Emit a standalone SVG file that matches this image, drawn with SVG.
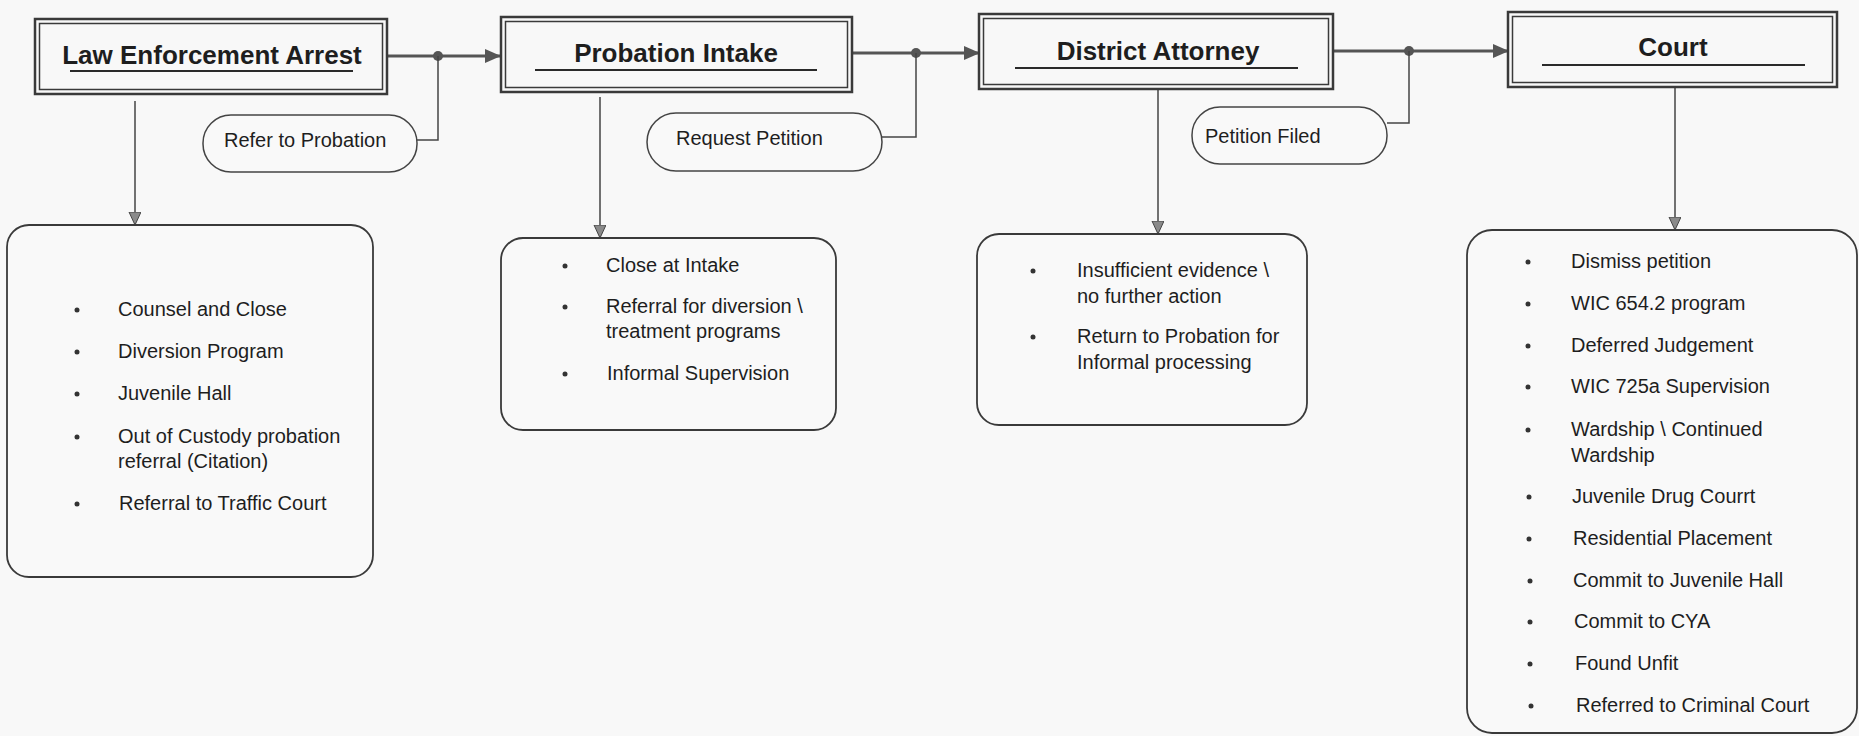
<svg xmlns="http://www.w3.org/2000/svg" width="1859" height="736" viewBox="0 0 1859 736">
<style>
.bg{fill:#f8f8f8}
.hout{fill:none;stroke:#3a3a3a;stroke-width:2.5}
.hin{fill:none;stroke:#3a3a3a;stroke-width:1.5}
.ul{stroke:#2a2a2a;stroke-width:2}
.ht{font-family:"Liberation Sans",Arial,sans-serif;font-weight:bold;font-size:26px;fill:#1e1e1e;text-anchor:middle}
.pill{fill:#f9f9f9;stroke:#444;stroke-width:1.5}
.lbl{font-family:"Liberation Sans",Arial,sans-serif;font-size:20px;fill:#1e1e1e}
.box{fill:#f9f9f9;stroke:#3a3a3a;stroke-width:1.8}
.bul{fill:#333}
.main{stroke:#555;stroke-width:3;fill:none}
.thin{stroke:#444;stroke-width:1.5;fill:none}
.dot{fill:#555}
</style>
<defs>
<marker id="ah" markerWidth="16" markerHeight="14" refX="15" refY="7" orient="auto" markerUnits="userSpaceOnUse">
<path d="M0,0 L16,7 L0,14 Z" fill="#555"/>
</marker>
<marker id="ad" markerWidth="14" markerHeight="14" refX="13" refY="6" orient="auto" markerUnits="userSpaceOnUse">
<path d="M0,0 L13,6 L0,12 Z" fill="#8a8a8a" stroke="#444" stroke-width="1"/>
</marker>
</defs>
<rect class="bg" x="0" y="0" width="1859" height="736"/>

<g id="connectors">
<line class="main" x1="387" y1="56" x2="500" y2="56" marker-end="url(#ah)"/>
<circle class="dot" cx="438" cy="56" r="5"/>
<polyline class="thin" points="438,56 438,140 417,140"/>
<line class="main" x1="852" y1="53" x2="979" y2="53" marker-end="url(#ah)"/>
<circle class="dot" cx="916" cy="53" r="5"/>
<polyline class="thin" points="916,53 916,137 882,137"/>
<line class="main" x1="1333" y1="51" x2="1508" y2="51" marker-end="url(#ah)"/>
<circle class="dot" cx="1409" cy="51" r="5"/>
<polyline class="thin" points="1409,51 1409,123 1387,123"/>
<line class="thin" x1="135" y1="101" x2="135" y2="225" marker-end="url(#ad)"/>
<line class="thin" x1="600" y1="97" x2="600" y2="238" marker-end="url(#ad)"/>
<line class="thin" x1="1158" y1="89" x2="1158" y2="234" marker-end="url(#ad)"/>
<line class="thin" x1="1675" y1="87" x2="1675" y2="230" marker-end="url(#ad)"/>
</g>

<g id="law-enforcement-arrest">
<rect class="hout" x="35" y="19" width="352" height="75"/>
<rect class="hin" x="39.5" y="23.5" width="343" height="66"/>
<text class="ht" x="212" y="64">Law Enforcement Arrest</text>
<line class="ul" x1="70" y1="71" x2="353" y2="71"/>
</g>

<g id="probation-intake">
<rect class="hout" x="501" y="17" width="351" height="75"/>
<rect class="hin" x="505.5" y="21.5" width="342" height="66"/>
<text class="ht" x="676" y="62">Probation Intake</text>
<line class="ul" x1="535" y1="70" x2="817" y2="70"/>
</g>

<g id="district-attorney">
<rect class="hout" x="979" y="14" width="354" height="75"/>
<rect class="hin" x="983.5" y="18.5" width="345" height="66"/>
<text class="ht" x="1158" y="60">District Attorney</text>
<line class="ul" x1="1015" y1="68" x2="1298" y2="68"/>
</g>

<g id="court">
<rect class="hout" x="1508" y="12" width="329" height="75"/>
<rect class="hin" x="1512.5" y="16.5" width="320" height="66"/>
<text class="ht" x="1673" y="56">Court</text>
<line class="ul" x1="1542" y1="65" x2="1805" y2="65"/>
</g>

<g id="refer-to-probation">
<rect class="pill" x="203" y="115" width="214" height="57" rx="28" ry="28"/>
<text class="lbl" x="224" y="147">Refer to Probation</text>
</g>

<g id="request-petition">
<rect class="pill" x="647" y="113" width="235" height="58" rx="29" ry="29"/>
<text class="lbl" x="676" y="145">Request Petition</text>
</g>

<g id="petition-filed">
<rect class="pill" x="1192" y="107" width="195" height="57" rx="28" ry="28"/>
<text class="lbl" x="1205" y="143">Petition Filed</text>
</g>

<g id="arrest-outcomes">
<rect class="box" x="7" y="225" width="366" height="352" rx="22" ry="22"/>
<circle class="bul" cx="77" cy="310" r="2.5"/>
<text class="lbl" x="118" y="316">Counsel and Close</text>
<circle class="bul" cx="77" cy="352" r="2.5"/>
<text class="lbl" x="118" y="358">Diversion Program</text>
<circle class="bul" cx="77" cy="394" r="2.5"/>
<text class="lbl" x="118" y="400">Juvenile Hall</text>
<circle class="bul" cx="77" cy="437" r="2.5"/>
<text class="lbl" x="118" y="443">Out of Custody probation</text>
<text class="lbl" x="118" y="468">referral (Citation)</text>
<circle class="bul" cx="77" cy="504" r="2.5"/>
<text class="lbl" x="119" y="510">Referral to Traffic Court</text>
</g>

<g id="intake-outcomes">
<rect class="box" x="501" y="238" width="335" height="192" rx="22" ry="22"/>
<circle class="bul" cx="565" cy="266" r="2.5"/>
<text class="lbl" x="606" y="272">Close at Intake</text>
<circle class="bul" cx="565" cy="307" r="2.5"/>
<text class="lbl" x="606" y="313">Referral for diversion \</text>
<text class="lbl" x="606" y="338">treatment programs</text>
<circle class="bul" cx="565" cy="374" r="2.5"/>
<text class="lbl" x="607" y="380">Informal Supervision</text>
</g>

<g id="da-outcomes">
<rect class="box" x="977" y="234" width="330" height="191" rx="22" ry="22"/>
<circle class="bul" cx="1033" cy="271" r="2.5"/>
<text class="lbl" x="1077" y="277">Insufficient evidence \</text>
<text class="lbl" x="1077" y="303">no further action</text>
<circle class="bul" cx="1033" cy="337" r="2.5"/>
<text class="lbl" x="1077" y="343">Return to Probation for</text>
<text class="lbl" x="1077" y="369">Informal processing</text>
</g>

<g id="court-outcomes">
<rect class="box" x="1467" y="230" width="390" height="503" rx="25" ry="25"/>
<circle class="bul" cx="1528" cy="262" r="2.5"/>
<text class="lbl" x="1571" y="268">Dismiss petition</text>
<circle class="bul" cx="1528" cy="304" r="2.5"/>
<text class="lbl" x="1571" y="310">WIC 654.2 program</text>
<circle class="bul" cx="1528" cy="346" r="2.5"/>
<text class="lbl" x="1571" y="352">Deferred Judgement</text>
<circle class="bul" cx="1528" cy="387" r="2.5"/>
<text class="lbl" x="1571" y="393">WIC 725a Supervision</text>
<circle class="bul" cx="1528" cy="430" r="2.5"/>
<text class="lbl" x="1571" y="436">Wardship \ Continued</text>
<text class="lbl" x="1571" y="462">Wardship</text>
<circle class="bul" cx="1529" cy="497" r="2.5"/>
<text class="lbl" x="1572" y="503">Juvenile Drug Courrt</text>
<circle class="bul" cx="1529" cy="539" r="2.5"/>
<text class="lbl" x="1573" y="545">Residential Placement</text>
<circle class="bul" cx="1530" cy="581" r="2.5"/>
<text class="lbl" x="1573" y="587">Commit to Juvenile Hall</text>
<circle class="bul" cx="1530" cy="622" r="2.5"/>
<text class="lbl" x="1574" y="628">Commit to CYA</text>
<circle class="bul" cx="1530" cy="664" r="2.5"/>
<text class="lbl" x="1575" y="670">Found Unfit</text>
<circle class="bul" cx="1531" cy="706" r="2.5"/>
<text class="lbl" x="1576" y="712">Referred to Criminal Court</text>
</g>
</svg>
